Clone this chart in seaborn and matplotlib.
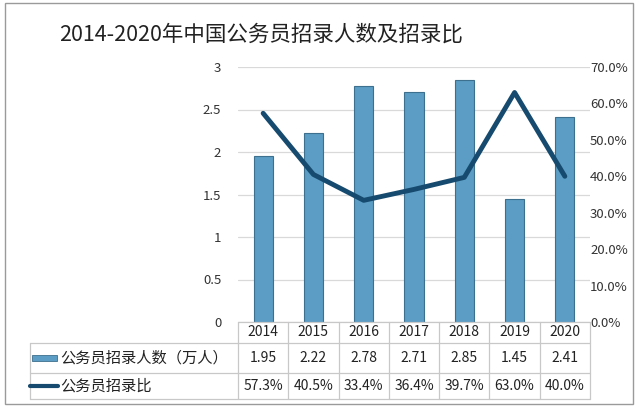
import matplotlib.pyplot as plt
import matplotlib.transforms as mtransforms
from matplotlib.patches import Rectangle
from matplotlib.lines import Line2D
import pandas as pd
import seaborn as sns

sns.set_theme(style="white")
plt.rcParams['font.family'] = ['Noto Sans CJK SC', 'DejaVu Sans']

# 数据
years = ['2014', '2015', '2016', '2017', '2018', '2019', '2020']
hires = [1.95, 2.22, 2.78, 2.71, 2.85, 1.45, 2.41]
ratio = [0.573, 0.405, 0.334, 0.364, 0.397, 0.630, 0.400]
bar_name = '公务员招录人数（万人）'
line_name = '公务员招录比'

df = pd.DataFrame({'year': years, 'hires': hires, 'ratio': ratio})

bar_color = '#5b9dc4'
line_color = '#164a6e'
grid_color = '#d9d9d9'

fig = plt.figure(figsize=(6.4, 4.08), dpi=100)
W, H = 640, 408
ax = fig.add_axes([238 / W, 1 - 322 / H, (590 - 238) / W, (322 - 67) / H])

sns.barplot(data=df, x='year', y='hires', color=bar_color, width=0.38,
            edgecolor='#3d6f8e', linewidth=0.8, saturation=1, ax=ax, zorder=3)
ax.set_ylim(0, 3)
ax.set_xlim(-0.5, 6.5)
ax.set_yticks([0, 0.5, 1, 1.5, 2, 2.5, 3])
ax.set_yticklabels(['0', '0.5', '1', '1.5', '2', '2.5', '3'], fontsize=9.5, color='#333333')
ax.set_xticks([])
ax.set_xlabel('')
ax.set_ylabel('')
ax.grid(axis='y', color=grid_color, linewidth=0.9, zorder=0)
ax.tick_params(axis='y', length=0, pad=12)
for s in ax.spines.values():
    s.set_visible(False)

ax2 = ax.twinx()
sns.lineplot(x=list(range(len(years))), y=ratio, color=line_color, linewidth=3.5,
             ax=ax2, zorder=5)
ax2.set_ylim(0, 0.7)
ax2.set_yticks([i / 10 for i in range(8)])
ax2.set_yticklabels([f'{i * 10:.1f}%' for i in range(8)], fontsize=9.5, color='#333333')
ax2.tick_params(axis='y', length=0, pad=0)
ax2.grid(False)
for s in ax2.spines.values():
    s.set_visible(False)

# 标题
fig.text(261 / W, 1 - 35 / H, '2014-2020年中国公务员招录人数及招录比', ha='center', va='center',
         fontsize=15.5, color='#222222')

# 外框
fig.add_artist(Rectangle((5 / W, 1 - 404 / H), 628 / W, 401 / H, transform=fig.transFigure,
                         fill=False, edgecolor='#9a9a9a', linewidth=1.0))

# 数据表
tr = mtransforms.blended_transform_factory(ax.transData, fig.transFigure)
y_axis = 1 - 322 / H
y_r1 = 1 - 343 / H
y_r2 = 1 - 373 / H
y_bot = 1 - 399 / H
tcol = '#c8c8c8'
fig.add_artist(Line2D([238 / W, 590 / W], [y_axis, y_axis], transform=fig.transFigure,
                      color=tcol, linewidth=0.9))
for yy in [y_r1, y_r2, y_bot]:
    fig.add_artist(Line2D([30 / W, 590 / W], [yy, yy], transform=fig.transFigure,
                          color=tcol, linewidth=0.9))
for i in range(len(years) + 1):
    x = i - 0.5
    fig.add_artist(Line2D([x, x], [y_axis, y_bot], transform=tr, color=tcol, linewidth=0.9))
fig.add_artist(Line2D([30 / W, 30 / W], [y_r1, y_bot], transform=fig.transFigure,
                      color=tcol, linewidth=0.9))

for i, y in enumerate(years):
    fig.text(i, 1 - 332 / H, y, transform=tr, ha='center', va='center', fontsize=10, color='#222222')
    fig.text(i, 1 - 358 / H, f'{hires[i]:.2f}', transform=tr, ha='center', va='center',
             fontsize=10, color='#222222')
    fig.text(i, 1 - 386 / H, f'{ratio[i] * 100:.1f}%', transform=tr, ha='center', va='center',
             fontsize=10, color='#222222')

fig.add_artist(Rectangle((32 / W, 1 - 361 / H), 25 / W, 6 / H, transform=fig.transFigure,
                         facecolor=bar_color, edgecolor='#3d6f8e', linewidth=0.6))
fig.add_artist(Line2D([30 / W, 58 / W], [1 - 386 / H, 1 - 386 / H], transform=fig.transFigure,
                      color=line_color, linewidth=3))
fig.text(60 / W, 1 - 358 / H, bar_name, ha='left', va='center', fontsize=11, color='#222222')
fig.text(60 / W, 1 - 386 / H, line_name, ha='left', va='center', fontsize=11, color='#222222')

fig.savefig('out.png', dpi=100)
